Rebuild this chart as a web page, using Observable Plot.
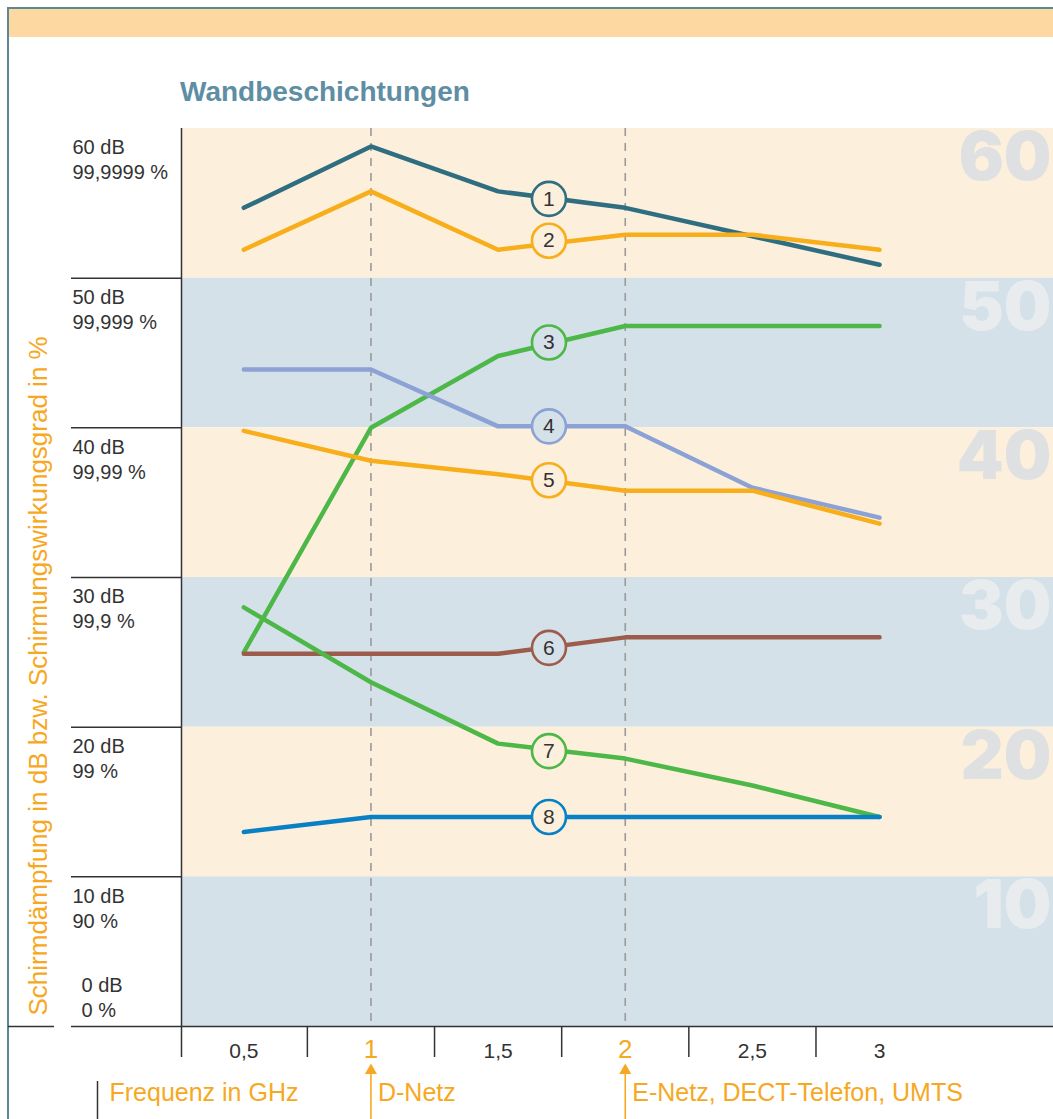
<!DOCTYPE html>
<html><head><meta charset="utf-8">
<script src="https://cdn.jsdelivr.net/npm/d3@7"></script>
<script src="https://cdn.jsdelivr.net/npm/@observablehq/plot@0.6"></script>
<style>
body{margin:0;background:#fff;font-family:"Liberation Sans",Arial,sans-serif;overflow:hidden;}
#wrap{position:relative;width:1053px;height:1119px;overflow:hidden;}
#bl{position:absolute;left:7px;top:7px;width:2px;height:1112px;background:#5b8797;}
#bt{position:absolute;left:7px;top:7px;width:1046px;height:2px;background:#5b8797;}
#band{position:absolute;left:9px;top:9px;width:1044px;height:28px;background:#fdd9a1;}
#title{position:absolute;left:180px;top:76px;font-size:28px;font-weight:bold;color:#5e8ea3;}
#chart{position:absolute;left:0;top:100px;}
</style></head>
<body>
<div id="wrap">
  <div id="bl"></div><div id="bt"></div><div id="band"></div>
  <div id="title">Wandbeschichtungen</div>
  <div id="chart"></div>
</div>
<script>
// ---- data ----
const freqs = [0.5, 1, 1.5, 2, 2.5, 3];
const s1 = [54.7, 58.8, 55.8, 54.7, 52.8, 50.9];
const s2 = [51.9, 55.8, 51.9, 52.9, 52.9, 51.9];
const s3 = [25.0, 40.0, 44.8, 46.8, 46.8, 46.8];
const s4 = [43.9, 43.9, 40.1, 40.1, 36.0, 34.0];
const s5 = [39.8, 37.8, 36.9, 35.8, 35.8, 33.6];
const s6 = [24.9, 24.9, 24.9, 26.0, 26.0, 26.0];
const s7 = [28.0, 23.0, 18.9, 17.9, 16.1, 14.0];
const s8 = [13.0, 14.0, 14.0, 14.0, 14.0, 14.0];
const seriesIds = ["1", "2", "3", "4", "5", "6", "7", "8"];
const seriesColors = ["#2e6e80", "#f8ad1a", "#4db848", "#8ca2d4", "#f8ad1a", "#9c5b4b", "#4db848", "#0a80c4"];
const labelFreq = 1.7;
const labelDb = [55.3, 52.5, 45.7, 40.1, 36.5, 25.3, 18.4, 14.0];

const yTicks = [60, 50, 40, 30, 20, 10];
const dbLabels = ["60 dB", "50 dB", "40 dB", "30 dB", "20 dB", "10 dB"];
const pctLabels = ["99,9999 %", "99,999 %", "99,99 %", "99,9 %", "99 %", "90 %"];
const zeroLabel = "0 dB\n0 %";

const bandTop = [60, 50, 40, 30, 20, 10];
const bandLabels = ["60", "50", "40", "30", "20", "10"];

const xTickVals = [0.5, 1, 1.5, 2, 2.5, 3];
const xTickLabels = ["0,5", "1", "1,5", "2", "2,5", "3"];
const xHighlight = [1, 2];
const xDividers = [0.75, 1.25, 1.75, 2.25, 2.75];
const netzNames = ["D-Netz", "E-Netz, DECT-Telefon, UMTS"];
const xTitle = "Frequenz in GHz";
const yTitle = "Schirmdämpfung in dB bzw. Schirmungswirkungsgrad in %";

// ---- derived tables ----
const allSeries = [s1, s2, s3, s4, s5, s6, s7, s8];
const lineData = allSeries.flatMap((s, k) => s.map((v, i) => ({f: freqs[i], db: v, id: seriesIds[k], c: seriesColors[k]})));
const beige = "#fcf0dc", blue = "#d5e1e9";
const bandFill = (top) => ((top / 10) % 2 === 0 ? beige : blue);
const bands = bandTop.map((t, i) => ({y1: t - 10, y2: t, fill: bandFill(t), label: bandLabels[i], lc: bandFill(t) === beige ? "#dfe0e2" : "#e8ecef"}));
const labels = labelDb.map((v, i) => ({f: labelFreq, db: v, id: seriesIds[i], c: seriesColors[i], bg: bandFill(Math.floor(v / 10) * 10 + 10)}));
const yLab = yTicks.map((t, i) => ({y: t, text: dbLabels[i] + "\n" + pctLabels[i]}));
const xLab = xTickVals.map((v, i) => ({x: v, text: xTickLabels[i], hi: xHighlight.includes(v)}));
const netz = xHighlight.map((v, i) => ({x: v, text: netzNames[i]}));

const xDomain = [0.255, 3.684];
const orange = "#f7a823", ink = "#333333";

const chart = Plot.plot({
  width: 1053, height: 1019,
  marginLeft: 181, marginRight: 0, marginTop: 28, marginBottom: 93,
  x: {domain: xDomain, axis: null},
  y: {domain: [0, 60], axis: null},
  color: {type: "identity"},
  style: {background: "transparent", fontFamily: "'Liberation Sans', Arial, sans-serif", overflow: "visible"},
  marks: [
    Plot.rect(bands, {y1: "y1", y2: "y2", fill: "fill"}),
    Plot.text(bands, {y: "y2", text: "label", frameAnchor: "right", textAnchor: "end", lineAnchor: "top", dx: -2, dy: 4, fontSize: 67, fontWeight: 900, fontFamily: "Inter, 'Liberation Sans', sans-serif", fill: "lc"}),
    Plot.ruleX(xHighlight, {x: d => d, stroke: "#9a9a9a", strokeWidth: 1.6, strokeDasharray: "8,7"}),
    // y tick lines at left
    Plot.ruleY(yTicks.slice(1), {y: d => d, insetLeft: -110, insetRight: 1053 - 181, stroke: ink, strokeWidth: 1.5}),
    Plot.ruleY([0], {y: d => d, insetLeft: -110, stroke: ink, strokeWidth: 1.5}),
    Plot.ruleY([0], {y: d => d, insetLeft: -173, insetRight: 999, stroke: ink, strokeWidth: 1.5}),
    Plot.ruleX([xDomain[0]], {x: d => d, insetBottom: -31, stroke: ink, strokeWidth: 1.5}),
    Plot.ruleX(xDividers, {x: d => d, y1: () => 0, y2: () => 0, insetBottom: -31, stroke: ink, strokeWidth: 1.5}),
    // y labels
    Plot.text(yLab, {y: "y", text: "text", frameAnchor: "left", dx: -109, dy: 8, textAnchor: "start", lineAnchor: "top", lineHeight: 1.25, fontSize: 20, fill: ink}),
    Plot.text([zeroLabel], {y: () => 0, text: d => d, frameAnchor: "left", dx: -100, dy: -10, textAnchor: "start", lineAnchor: "bottom", lineHeight: 1.25, fontSize: 20, fill: ink}),
    Plot.text([yTitle], {frameAnchor: "bottom-left", text: d => d, rotate: -90, dx: -143, dy: -11, textAnchor: "start", lineAnchor: "middle", fontSize: 26, fill: orange}),
    // x labels
    Plot.text(xLab.filter(d => !d.hi), {x: "x", y: () => 0, text: "text", dy: 25, fontSize: 21, fill: ink}),
    Plot.text(xLab.filter(d => d.hi), {x: "x", y: () => 0, text: "text", dy: 23, fontSize: 26, fill: orange}),
    Plot.ruleX(xHighlight, {x: d => d, y1: () => 0, y2: () => 0, insetTop: 46, insetBottom: -93, stroke: orange, strokeWidth: 1.6}),
    Plot.dot(xHighlight, {x: d => d, y: () => 0, dy: 44, symbol: "triangle", r: 4.5, fill: orange, stroke: "none"}),
    Plot.text(netz, {x: "x", y: () => 0, text: "text", dx: 7, dy: 66, textAnchor: "start", lineAnchor: "middle", fontSize: 25, fill: orange}),
    Plot.text([xTitle], {frameAnchor: "bottom-left", text: d => d, dx: -72, dy: 66, textAnchor: "start", lineAnchor: "middle", fontSize: 25, fill: orange}),
    Plot.ruleX([xDomain[0]], {x: d => d, y1: () => 0, y2: () => 0, dx: -84, insetTop: 55, insetBottom: -93, stroke: ink, strokeWidth: 1.5}),
    // data lines
    Plot.line(lineData, {x: "f", y: "db", z: "id", stroke: "c", strokeWidth: 4.5, strokeLinejoin: "miter"}),
    Plot.dot(labels, {x: "f", y: "db", r: 17, fill: "bg", stroke: "c", strokeWidth: 2.6}),
    Plot.text(labels, {x: "f", y: "db", text: "id", fontSize: 21, fill: ink})
  ]
});
document.getElementById("chart").appendChild(chart);
</script>
</body></html>
